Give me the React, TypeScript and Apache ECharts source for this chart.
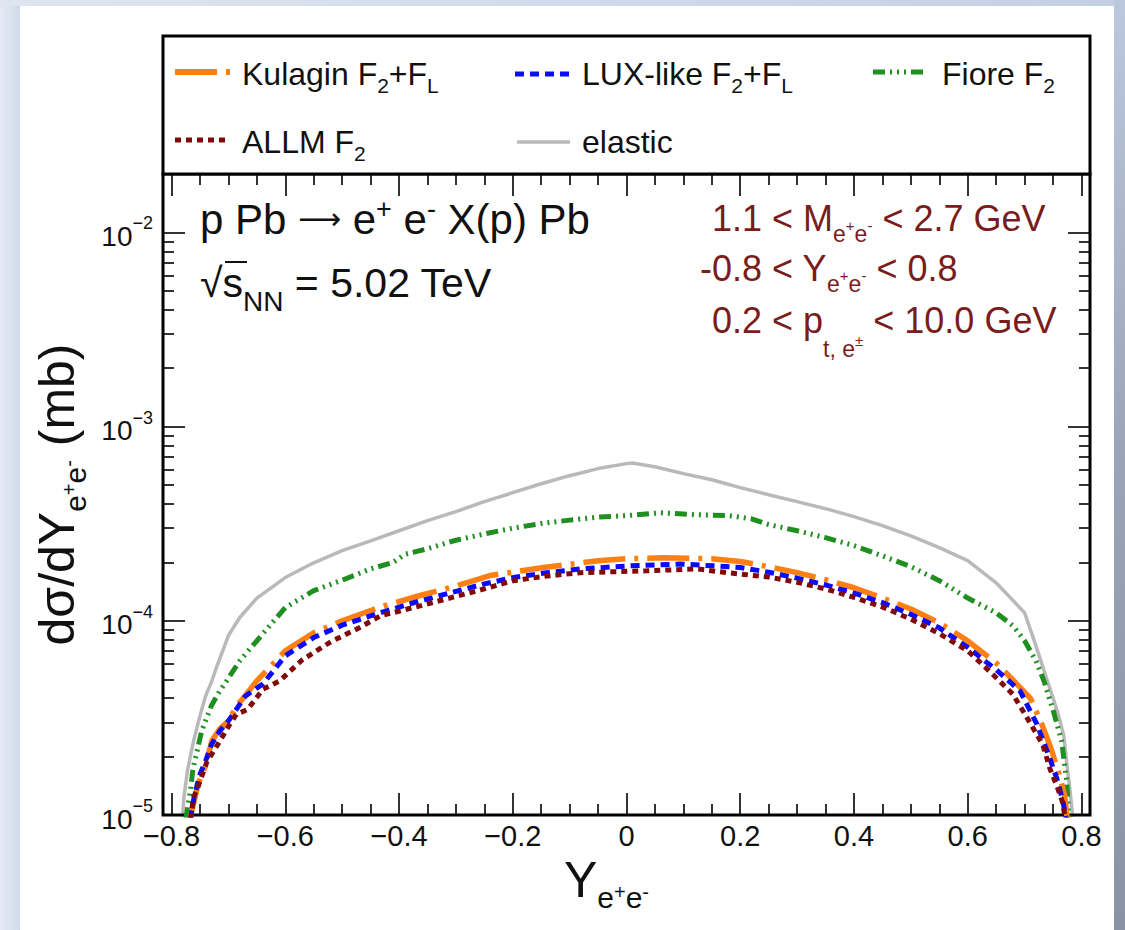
import React, { useEffect, useRef } from "react";
import * as echarts from "echarts";

const FONT = "'Liberation Sans', Arial, Helvetica, sans-serif";
const INK = "#111111";
const RED_TEXT = "#7a1c1c";

const X_MIN = -0.815;
const X_MAX = 0.815;
const Y_MIN = 1e-5;
const Y_MAX = 2e-2;

const xMajorTicks = [-0.8, -0.6, -0.4, -0.2, 0, 0.2, 0.4, 0.6, 0.8];
const xMinorTicks = [
  -0.8, -0.75, -0.7, -0.65, -0.6, -0.55, -0.5, -0.45, -0.4, -0.35, -0.3, -0.25, -0.2, -0.15, -0.1, -0.05,
  0, 0.05, 0.1, 0.15, 0.2, 0.25, 0.3, 0.35, 0.4, 0.45, 0.5, 0.55, 0.6, 0.65, 0.7, 0.75, 0.8,
];
const yMinorMantissas = [2, 3, 4, 5, 6, 7, 8, 9];
const yDecadeExponents = [-5, -4, -3, -2];

// elastic (grey, solid)
const elastic: [number, number][] = [
  [-0.781, 9.5e-6], [-0.778, 1.25e-5], [-0.772, 1.69e-5], [-0.765, 2.14e-5], [-0.76, 2.49e-5],
  [-0.75, 3.24e-5], [-0.74, 4.11e-5], [-0.729, 4.91e-5], [-0.72, 5.86e-5], [-0.71, 7.0e-5],
  [-0.7, 8.4e-5], [-0.68, 1.04e-4], [-0.65, 1.31e-4], [-0.6, 1.67e-4], [-0.55, 1.99e-4],
  [-0.5, 2.3e-4], [-0.45, 2.58e-4], [-0.4, 2.91e-4], [-0.35, 3.28e-4], [-0.3, 3.65e-4],
  [-0.25, 4.11e-4], [-0.2, 4.57e-4], [-0.15, 5.08e-4], [-0.1, 5.59e-4], [-0.05, 6.08e-4],
  [0.0, 6.45e-4], [0.01, 6.5e-4], [0.05, 6.22e-4], [0.1, 5.73e-4], [0.15, 5.33e-4],
  [0.2, 4.85e-4], [0.25, 4.46e-4], [0.3, 4.11e-4], [0.35, 3.78e-4], [0.4, 3.44e-4],
  [0.45, 3.09e-4], [0.5, 2.74e-4], [0.55, 2.38e-4], [0.6, 2.04e-4], [0.65, 1.57e-4],
  [0.7, 1.1e-4], [0.72, 7.43e-5], [0.74, 4.91e-5], [0.75, 4.0e-5], [0.76, 3.24e-5],
  [0.769, 2.55e-5], [0.775, 1.75e-5], [0.78, 1.33e-5], [0.785, 9.5e-6],
];

// Fiore F2 (green, dash-dot-dot-dot)
const fiore: [number, number][] = [
  [-0.775, 9.5e-6], [-0.767, 1.33e-5], [-0.762, 1.75e-5], [-0.755, 2.14e-5], [-0.747, 2.71e-5],
  [-0.73, 3.65e-5], [-0.715, 4.36e-5], [-0.703, 4.91e-5], [-0.68, 6.22e-5], [-0.65, 7.89e-5],
  [-0.62, 1.0e-4], [-0.6, 1.17e-4], [-0.55, 1.43e-4], [-0.5, 1.62e-4], [-0.45, 1.85e-4],
  [-0.41, 2.0e-4], [-0.39, 2.2e-4], [-0.35, 2.35e-4], [-0.3, 2.6e-4], [-0.25, 2.8e-4],
  [-0.2, 3.0e-4], [-0.15, 3.17e-4], [-0.1, 3.3e-4], [-0.05, 3.42e-4], [0.0, 3.48e-4],
  [0.06, 3.6e-4], [0.12, 3.52e-4], [0.18, 3.48e-4], [0.22, 3.35e-4], [0.25, 3.13e-4],
  [0.3, 2.91e-4], [0.35, 2.68e-4], [0.4, 2.44e-4], [0.45, 2.16e-4], [0.5, 1.9e-4],
  [0.55, 1.61e-4], [0.6, 1.31e-4], [0.65, 1.1e-4], [0.68, 9.4e-5], [0.7, 7.89e-5],
  [0.72, 6.22e-5], [0.734, 4.91e-5], [0.752, 3.32e-5], [0.765, 2.41e-5], [0.774, 1.5e-5],
  [0.778, 9.5e-6],
];

// Kulagin F2+FL (orange, long dash)
const kulagin: [number, number][] = [
  [-0.768, 9.5e-6], [-0.765, 1.03e-5], [-0.753, 1.45e-5], [-0.741, 1.77e-5], [-0.729, 2.41e-5],
  [-0.715, 2.78e-5], [-0.7, 3.05e-5], [-0.685, 3.65e-5], [-0.668, 4.2e-5], [-0.65, 4.91e-5],
  [-0.62, 6.07e-5], [-0.6, 7.0e-5], [-0.55, 8.67e-5], [-0.5, 1.0e-4], [-0.45, 1.13e-4],
  [-0.416, 1.22e-4], [-0.363, 1.35e-4], [-0.3, 1.51e-4], [-0.24, 1.71e-4], [-0.146, 1.88e-4],
  [-0.05, 2.04e-4], [0.0, 2.09e-4], [0.065, 2.11e-4], [0.15, 2.09e-4], [0.2, 2.02e-4],
  [0.25, 1.9e-4], [0.3, 1.77e-4], [0.35, 1.63e-4], [0.4, 1.48e-4], [0.45, 1.31e-4],
  [0.5, 1.15e-4], [0.55, 9.77e-5], [0.6, 7.89e-5], [0.65, 6.07e-5], [0.681, 4.91e-5],
  [0.71, 4.0e-5], [0.728, 3.05e-5], [0.746, 2.22e-5], [0.759, 1.69e-5], [0.77, 1.28e-5],
  [0.775, 9.5e-6],
];

// LUX-like F2+FL (blue, dashed)
const luxLike: [number, number][] = [
  [-0.767, 9.5e-6], [-0.76, 1.25e-5], [-0.75, 1.62e-5], [-0.74, 1.9e-5], [-0.73, 2.3e-5],
  [-0.715, 2.71e-5], [-0.7, 3.05e-5], [-0.67, 4.1e-5], [-0.639, 4.74e-5], [-0.6, 6.6e-5],
  [-0.55, 8.2e-5], [-0.5, 9.5e-5], [-0.433, 1.1e-4], [-0.37, 1.25e-4], [-0.315, 1.38e-4],
  [-0.25, 1.55e-4], [-0.199, 1.67e-4], [-0.14, 1.77e-4], [-0.081, 1.85e-4], [0.007, 1.92e-4],
  [0.095, 1.96e-4], [0.153, 1.92e-4], [0.2, 1.88e-4], [0.25, 1.78e-4], [0.3, 1.66e-4],
  [0.35, 1.53e-4], [0.4, 1.39e-4], [0.45, 1.24e-4], [0.5, 1.08e-4], [0.55, 9.2e-5],
  [0.6, 7.3e-5], [0.65, 5.6e-5], [0.692, 4.36e-5], [0.721, 2.96e-5], [0.744, 1.97e-5],
  [0.758, 1.5e-5], [0.768, 1.15e-5], [0.773, 9.5e-6],
];

// ALLM F2 (dark red, dotted)
const allm: [number, number][] = [
  [-0.766, 9.5e-6], [-0.762, 1.22e-5], [-0.754, 1.38e-5], [-0.738, 1.87e-5], [-0.719, 2.3e-5],
  [-0.697, 2.95e-5], [-0.686, 3.3e-5], [-0.666, 3.5e-5], [-0.654, 3.9e-5], [-0.639, 4.45e-5],
  [-0.61, 4.9e-5], [-0.57, 6.3e-5], [-0.52, 7.8e-5], [-0.47, 9.2e-5], [-0.433, 1.06e-4],
  [-0.37, 1.18e-4], [-0.315, 1.3e-4], [-0.25, 1.46e-4], [-0.199, 1.61e-4], [-0.14, 1.7e-4],
  [-0.081, 1.77e-4], [0.036, 1.81e-4], [0.124, 1.85e-4], [0.177, 1.77e-4], [0.25, 1.68e-4],
  [0.3, 1.58e-4], [0.35, 1.46e-4], [0.4, 1.32e-4], [0.45, 1.18e-4], [0.5, 1.02e-4],
  [0.55, 8.6e-5], [0.6, 7.0e-5], [0.63, 5.8e-5], [0.656, 4.9e-5], [0.679, 4.2e-5],
  [0.697, 3.44e-5], [0.715, 2.8e-5], [0.732, 2.3e-5], [0.744, 1.75e-5], [0.758, 1.38e-5],
  [0.766, 1.18e-5], [0.772, 9.5e-6],
];

const COLORS = {
  kulagin: "#ff7f10",
  lux: "#0a0aff",
  fiore: "#1f8f1f",
  allm: "#800a0a",
  elastic: "#b9b9b9",
};
const DASH = {
  kulagin: [42, 9, 4, 9],
  lux: [9, 6],
  fiore: [12, 5, 2, 5, 2, 5, 2, 5],
  allm: [6, 5],
};

function App() {
  const ref = useRef<HTMLDivElement>(null);
  useEffect(() => {
    if (!ref.current) return;
    const chart = echarts.init(ref.current, undefined, { renderer: "svg" });

    const yMinorLog: number[] = [];
    yDecadeExponents.forEach((e) =>
      yMinorMantissas.forEach((m) => {
        const v = m * Math.pow(10, e);
        if (v < Y_MAX * 0.999) yMinorLog.push(Math.log10(v));
      })
    );

    const tickLine = { color: "#333333", width: 2 };
    const fmtX = (v: number) => {
      if (Math.abs(v) < 1e-9) return "0";
      return (v < 0 ? "\u2212" : "") + Math.abs(v).toFixed(1);
    };
    const fmtY = (v: number) => {
      const l = Math.log10(v);
      const e = Math.round(l);
      if (Math.abs(l - e) > 1e-6) return "";
      return `{b|10}{s|\u2212${-e}}`;
    };

    const axisBase = {
      splitLine: { show: false },
      axisLine: { show: false, onZero: false },
      minorTick: { show: false },
    };

    const text = (x: number, y: number, str: string, size: number, color: string, rich: any, align = "left") => ({
      type: "text",
      x,
      y,
      z: 50,
      style: {
        text: str,
        fontSize: size,
        fontFamily: FONT,
        fill: color,
        align,
        textAlign: align,
        verticalAlign: "middle",
        textVerticalAlign: "middle",
        rich,
      },
    });

    const legendRich = {
      sb: { fontSize: 21, fontFamily: FONT, fill: INK, padding: [22, 0, 0, 0] },
    };
    const line = (x1: number, x2: number, y: number, color: string, width: number, dash?: number[]) => ({
      type: "line",
      z: 50,
      shape: { x1, y1: y, x2, y2: y },
      style: { stroke: color, lineWidth: width, lineDash: dash || null },
    });

    const titleRich = {
      sp: { fontSize: 27, fontFamily: FONT, fill: INK, padding: [0, 0, 20, 0] },
      ar: { fontSize: 30, fontFamily: "'DejaVu Sans', sans-serif", fill: INK, padding: [0, 0, 2, 0] },
    };
    const sqrtRich = {
      sb: { fontSize: 28, fontFamily: FONT, fill: INK, padding: [36, 0, 0, 0] },
    };
    const redRich = {
      sb: { fontSize: 23, fontFamily: FONT, fill: RED_TEXT, padding: [32, 0, 0, 0] },
      ss: { fontSize: 15, fontFamily: FONT, fill: RED_TEXT, padding: [14, 0, 0, 0] },
      sbp: { fontSize: 23, fontFamily: FONT, fill: RED_TEXT, padding: [58, 0, 0, 0] },
      ssp: { fontSize: 15, fontFamily: FONT, fill: RED_TEXT, padding: [40, 0, 0, 0] },
    };

    const option: any = {
      animation: false,
      backgroundColor: "#dce4f0",
      grid: {
        left: 163,
        top: 174,
        width: 927,
        height: 641,
        show: true,
        borderColor: "#000000",
        borderWidth: 3,
        backgroundColor: "transparent",
        z: 3,
      },
      xAxis: [
        {
          ...axisBase,
          type: "value",
          position: "bottom",
          min: X_MIN,
          max: X_MAX,
          axisTick: { show: true, inside: true, length: 22, lineStyle: tickLine, customValues: xMajorTicks },
          axisLabel: {
            show: true,
            customValues: xMajorTicks,
            margin: 6,
            fontSize: 29,
            fontFamily: FONT,
            color: INK,
            formatter: fmtX,
          },
          name: "Y{sb|e}{ss|+}{sb|e}{ss|-}",
          nameLocation: "middle",
          nameGap: 30,
          nameTextStyle: {
            fontSize: 50,
            fontFamily: FONT,
            color: INK,
            padding: [0, 40, 0, 0],
            rich: {
              sb: { fontSize: 30, fontFamily: FONT, color: INK, padding: [36, 0, 0, 0] },
              ss: { fontSize: 20, fontFamily: FONT, color: INK, padding: [24, 0, 0, 0] },
            },
          },
        },
        {
          ...axisBase,
          type: "value",
          position: "bottom",
          min: X_MIN,
          max: X_MAX,
          axisTick: { show: true, inside: true, length: 11, lineStyle: tickLine, customValues: xMinorTicks },
          axisLabel: { show: false },
        },
        {
          ...axisBase,
          type: "value",
          position: "top",
          min: X_MIN,
          max: X_MAX,
          axisTick: { show: true, inside: true, length: 22, lineStyle: tickLine, customValues: xMajorTicks },
          axisLabel: { show: false },
        },
        {
          ...axisBase,
          type: "value",
          position: "top",
          min: X_MIN,
          max: X_MAX,
          axisTick: { show: true, inside: true, length: 11, lineStyle: tickLine, customValues: xMinorTicks },
          axisLabel: { show: false },
        },
      ],
      yAxis: [
        {
          ...axisBase,
          type: "log",
          logBase: 10,
          position: "left",
          min: Y_MIN,
          max: Y_MAX,
          axisTick: { show: true, inside: true, length: 22, lineStyle: tickLine },
          axisLabel: {
            show: true,
            margin: 10,
            formatter: fmtY,
            rich: {
              b: { fontSize: 28, fontFamily: FONT, color: INK, padding: [8, 0, 0, 0] },
              s: { fontSize: 18, fontFamily: FONT, color: INK, padding: [0, 0, 18, 0] },
            },
          },
          name: "d\u03c3/dY{sb|e}{ss|+}{sb|e}{ss|-} (mb)",
          nameLocation: "middle",
          nameRotate: 90,
          nameGap: 67,
          nameTextStyle: {
            fontSize: 50,
            fontFamily: FONT,
            color: INK,
            rich: {
              sb: { fontSize: 30, fontFamily: FONT, color: INK, padding: [36, 0, 0, 0] },
              ss: { fontSize: 20, fontFamily: FONT, color: INK, padding: [24, 0, 0, 0] },
            },
          },
        },
        {
          ...axisBase,
          type: "value",
          position: "left",
          min: Math.log10(Y_MIN),
          max: Math.log10(Y_MAX),
          axisTick: { show: true, inside: true, length: 11, lineStyle: tickLine, customValues: yMinorLog },
          axisLabel: { show: false },
        },
        {
          ...axisBase,
          type: "log",
          logBase: 10,
          position: "right",
          min: Y_MIN,
          max: Y_MAX,
          axisTick: { show: true, inside: true, length: 22, lineStyle: tickLine },
          axisLabel: { show: false },
        },
        {
          ...axisBase,
          type: "value",
          position: "right",
          min: Math.log10(Y_MIN),
          max: Math.log10(Y_MAX),
          axisTick: { show: true, inside: true, length: 11, lineStyle: tickLine, customValues: yMinorLog },
          axisLabel: { show: false },
        },
      ],
      series: [
        {
          name: "elastic",
          type: "line",
          data: elastic,
          symbol: "none",
          showSymbol: false,
          clip: true,
          lineStyle: { color: COLORS.elastic, width: 3.5 },
          z: 2,
        },
        {
          name: "Fiore F2",
          type: "line",
          data: fiore,
          symbol: "none",
          showSymbol: false,
          clip: true,
          lineStyle: { color: COLORS.fiore, width: 5, type: DASH.fiore },
          z: 3,
        },
        {
          name: "Kulagin F2+FL",
          type: "line",
          data: kulagin,
          symbol: "none",
          showSymbol: false,
          clip: true,
          lineStyle: { color: COLORS.kulagin, width: 5.5, type: DASH.kulagin },
          z: 4,
        },
        {
          name: "LUX-like F2+FL",
          type: "line",
          data: luxLike,
          symbol: "none",
          showSymbol: false,
          clip: true,
          lineStyle: { color: COLORS.lux, width: 5, type: DASH.lux },
          z: 5,
        },
        {
          name: "ALLM F2",
          type: "line",
          data: allm,
          symbol: "none",
          showSymbol: false,
          clip: true,
          lineStyle: { color: COLORS.allm, width: 5, type: DASH.allm },
          z: 6,
        },
      ],
      graphic: {
        elements: [
          // page frame
          {
            type: "rect",
            z: -100,
            shape: { x: 0, y: 0, width: 20, height: 930 },
            style: {
              fill: new echarts.graphic.LinearGradient(0, 0, 1, 0, [
                { offset: 0, color: "#e4eaf4" },
                { offset: 1, color: "#d2dbea" },
              ]),
            },
          },
          {
            type: "rect",
            z: -100,
            shape: { x: 0, y: 0, width: 1125, height: 6 },
            style: {
              fill: new echarts.graphic.LinearGradient(0, 0, 1, 0, [
                { offset: 0, color: "#dfe6f1" },
                { offset: 1, color: "#c3cfe4" },
              ]),
            },
          },
          {
            type: "rect",
            z: -100,
            shape: { x: 1114, y: 0, width: 11, height: 930 },
            style: {
              fill: new echarts.graphic.LinearGradient(0, 0, 0, 1, [
                { offset: 0, color: "#bcc8dd" },
                { offset: 0.5, color: "#9aa4b8" },
                { offset: 1, color: "#8a93a6" },
              ]),
            },
          },
          {
            type: "rect",
            z: -99,
            shape: { x: 20, y: 6, width: 1094, height: 924 },
            style: { fill: "#ffffff" },
          },
          // legend box
          {
            type: "rect",
            z: 40,
            shape: { x: 163, y: 36, width: 927, height: 138 },
            style: { fill: "#ffffff", stroke: "#000000", lineWidth: 3 },
          },
          line(175, 232, 72, COLORS.kulagin, 6, DASH.kulagin),
          text(242, 74, "Kulagin F{sb|2}+F{sb|L}", 32, INK, legendRich),
          line(515, 570, 74, COLORS.lux, 5, DASH.lux),
          text(582, 74, "LUX-like F{sb|2}+F{sb|L}", 32, INK, legendRich),
          line(873, 928, 72, COLORS.fiore, 5, DASH.fiore),
          text(942, 74, "Fiore F{sb|2}", 32, INK, legendRich),
          line(175, 230, 140, COLORS.allm, 5, DASH.allm),
          text(242, 142, "ALLM F{sb|2}", 32, INK, legendRich),
          line(517, 570, 142, COLORS.elastic, 3.5),
          text(582, 142, "elastic", 32, INK, legendRich),
          // annotations
          text(200, 219, "p Pb {ar|\u27f6} e{sp|+} e{sp|-} X(p) Pb", 42, INK, titleRich),
          text(200, 283, "\u221as{sb|NN} = 5.02 TeV", 41, INK, sqrtRich),
          line(225, 247, 262, INK, 2),
          text(712, 218, "1.1 < M{sb|e}{ss|+}{sb|e}{ss|-} < 2.7 GeV", 36, RED_TEXT, redRich),
          text(700, 268, "-0.8 < Y{sb|e}{ss|+}{sb|e}{ss|-} < 0.8", 36, RED_TEXT, redRich),
          text(712, 320, "0.2 < p{sbp|t, e}{ssp|\u00b1} < 10.0 GeV", 36, RED_TEXT, redRich),
        ],
      },
    };

    chart.setOption(option);
    return () => chart.dispose();
  }, []);

  return (
    <div
      ref={ref}
      style={{ position: "absolute", left: 0, top: 0, width: 1125, height: 930 }}
    />
  );
}

export default App;
